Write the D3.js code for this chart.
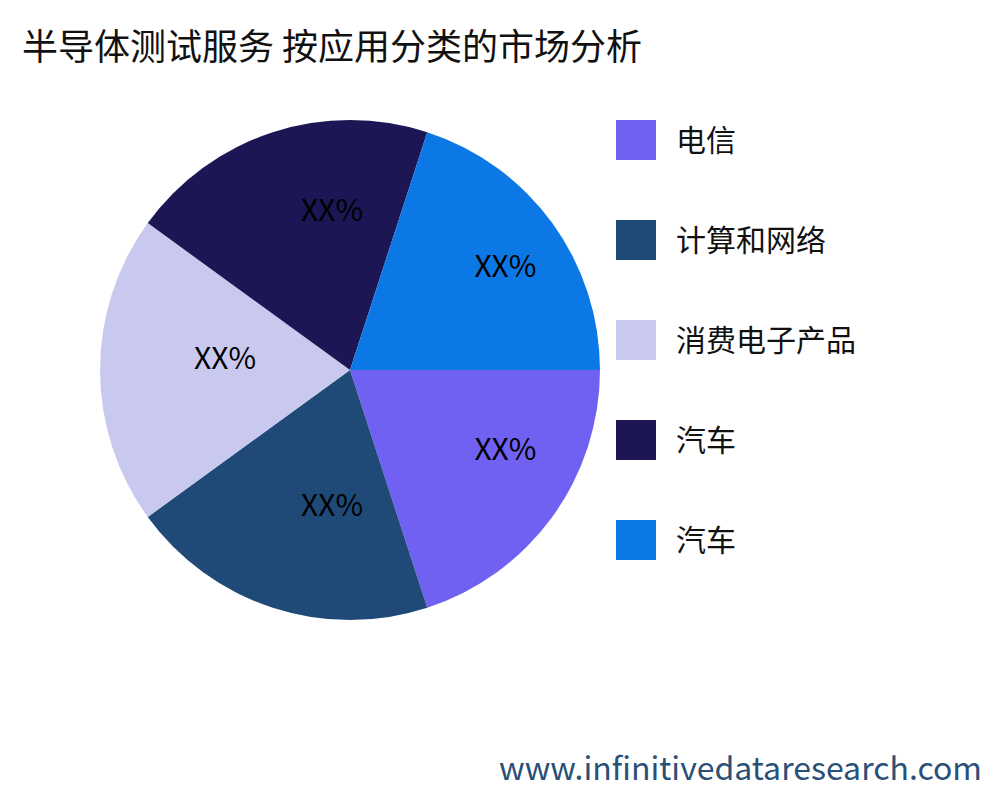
<!DOCTYPE html>
<html><head><meta charset="utf-8">
<script src="https://cdn.jsdelivr.net/npm/d3@7"></script>
<style>body{margin:0;background:#fff}</style>
</head><body>
<svg id="chart" width="1000" height="800"></svg>
<script>
const categories = ["电信", "计算和网络", "消费电子产品", "汽车", "汽车"];
const values = [20, 20, 20, 20, 20];
const labels = ["XX%", "XX%", "XX%", "XX%", "XX%"];
const colors = ["#7061f3", "#1f4a78", "#c9c9f0", "#1c1654", "#0c78e6"];

const font = "'Noto Sans CJK SC', 'Noto Sans', sans-serif";
const svg = d3.select("#chart");

svg.append("text").attr("x", 22).attr("y", 60)
  .style("font-family", font).style("font-size", "36px").attr("fill", "#111")
  .text("半导体测试服务 按应用分类的市场分析");

const cx = 350, cy = 370, r = 250;
const pie = d3.pie().sort(null).value(d => d)
  .startAngle(Math.PI / 2).endAngle(Math.PI / 2 + 2 * Math.PI);
const arcs = pie(values);
const arc = d3.arc().innerRadius(0).outerRadius(r);
const labelArc = d3.arc().innerRadius(r * 0.62).outerRadius(r * 0.62);

const g = svg.append("g").attr("transform", `translate(${cx},${cy})`);
g.selectAll("path").data(arcs).enter().append("path")
  .attr("d", arc).attr("fill", (d, i) => colors[i]);
g.selectAll("text").data(arcs).enter().append("text")
  .attr("transform", d => { const c = labelArc.centroid(d); return `translate(${c[0] + 30},${c[1] - 12})`; })
  .attr("text-anchor", "middle").attr("dy", "0.35em")
  .style("font-family", font).style("font-size", "30px").attr("fill", "#000")
  .text((d, i) => labels[i]);

const legend = svg.append("g");
categories.forEach((c, i) => {
  legend.append("rect").attr("x", 616).attr("y", 120 + i * 100)
    .attr("width", 40).attr("height", 40).attr("fill", colors[i]);
  legend.append("text").attr("x", 676).attr("y", 140 + i * 100).attr("dy", "0.35em")
    .style("font-family", font).style("font-size", "30px").attr("fill", "#111").text(c);
});

svg.append("text").attr("x", 982).attr("y", 780).attr("text-anchor", "end")
  .style("font-family", font).style("font-size", "32px").attr("fill", "#2a5078")
  .text("www.infinitivedataresearch.com");
</script>
</body></html>
